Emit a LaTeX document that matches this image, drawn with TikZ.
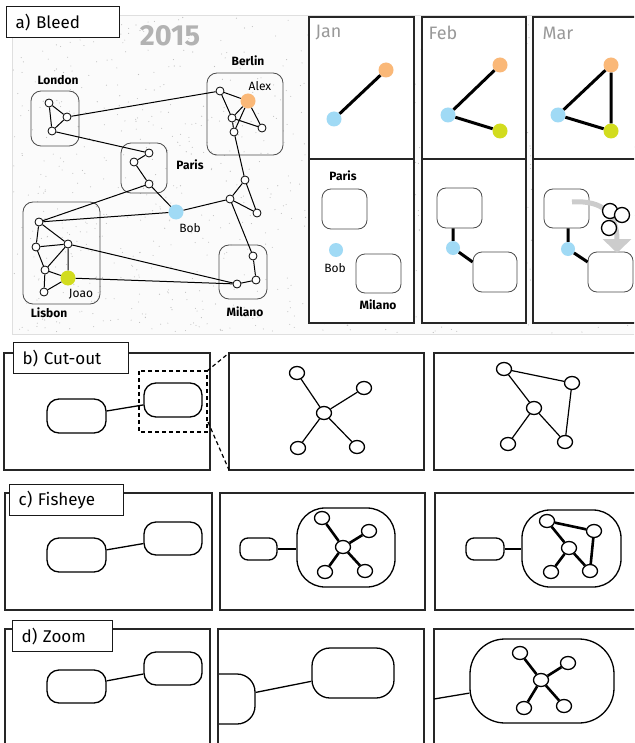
\documentclass[tikz,border=0pt]{standalone}
\usepackage{fontspec}
\setmainfont{Fira Sans}
\usetikzlibrary{shapes.geometric,arrows.meta}
\definecolor{alexorange}{RGB}{250,184,120}
\definecolor{bobblue}{RGB}{160,218,245}
\definecolor{joaogreen}{RGB}{210,220,30}
\tikzset{
  panel/.style={draw=black!85, line width=1.5pt, fill=white},
  tag/.style={draw=black!90, fill=white, line width=1.3pt, anchor=north west, inner xsep=9pt, inner ysep=0pt, minimum height=31pt, text width=#1, align=left, font=\fontsize{17}{18}\selectfont},
  city/.style={draw=black!70, line width=0.8pt, rounded corners=10pt, inner sep=0pt},
  cityname/.style={font=\fontsize{12}{13}\selectfont\bfseries},
  who/.style={font=\fontsize{12}{13}\selectfont},
  month/.style={anchor=west, text=black!40, font=\fontsize{18}{19}\selectfont},
  vtx/.style={circle, draw, fill=white, line width=0.8pt, minimum size=8pt, inner sep=0pt},
  dot/.style={circle, fill=#1, minimum size=15pt, inner sep=0pt},
  grp/.style={draw, line width=1.3pt, fill=white, inner sep=0pt, rounded corners=#1},
  grp/.default=12pt,
  knot/.style={ellipse, draw, fill=white, line width=1.3pt, minimum width=15pt, minimum height=13pt, inner sep=0pt},
  edge/.style={line width=1pt},
  fat/.style={line width=2.6pt}
}
\begin{document}
\begin{tikzpicture}[x=1pt,y=1pt]
\clip (0,0) rectangle (634,-743);
\fill[white] (0,0) rectangle (634,-743);
\draw[gray!25, fill=gray!3, line width=0.8pt] (12,-15) rectangle (660,-334);
\pgfmathsetseed{42}
\foreach \i in {1,...,1100} {
  \fill[gray!50] ({13+640*rnd},{-16-317*rnd}) circle (0.55pt);
}
\node[text=black!30, font=\fontsize{29}{29}\selectfont\bfseries] (year) at (170,-36) {2015};

\node[city, minimum width=48pt, minimum height=55pt] (london) at (55,-118.5) {};
\node[city, minimum width=46pt, minimum height=50pt] (paris) at (144,-168) {};
\node[city, minimum width=76pt, minimum height=82pt] (berlin) at (245,-114) {};
\node[city, minimum width=48pt, minimum height=54pt] (milano) at (243,-272) {};
\node[city, minimum width=77pt, minimum height=102pt] (lisbon) at (61.5,-253) {};
\node[cityname] at (58,-80) {London};
\node[cityname] at (190,-165) {Paris};
\node[cityname] at (248,-61) {Berlin};
\node[cityname] at (245,-312) {Milano};
\node[cityname] at (49,-313) {Lisbon};

\node[vtx] (lo1) at (49,-103) {};
\node[vtx] (lo2) at (67,-117) {};
\node[vtx] (lo3) at (52,-131) {};
\node[vtx] (pa1) at (149,-153) {};
\node[vtx] (pa2) at (134,-162) {};
\node[vtx] (pa3) at (149,-184) {};
\node[vtx] (be1) at (220,-91) {};
\node[vtx] (be3) at (232,-118) {};
\node[vtx] (be4) at (262,-128) {};
\node[vtx] (be5) at (234,-132) {};
\node[vtx] (hub1) at (245,-180) {};
\node[vtx] (hub2) at (230,-199) {};
\node[vtx] (hub3) at (257,-213) {};
\node[vtx] (mi1) at (253,-256) {};
\node[vtx] (mi2) at (256,-280) {};
\node[vtx] (mi3) at (237,-284) {};
\node[vtx] (li1) at (39,-222) {};
\node[vtx] (li2) at (36,-247) {};
\node[vtx] (li3) at (68,-244) {};
\node[vtx] (li4) at (45,-270) {};
\node[vtx] (li5) at (44,-292) {};
\node[dot=alexorange] (alex) at (248,-101) {};
\node[dot=bobblue] (bob) at (176,-212) {};
\node[dot=joaogreen] (joao) at (68,-278) {};
\node[who] at (260,-86) {Alex};
\node[who] at (190,-228) {Bob};
\node[who] at (81,-294) {Joao};

\draw[edge] (lo1) -- (lo2) -- (lo3) -- (lo1);
\draw[edge] (lo2) -- (be1);
\draw[edge] (lo3) -- (pa1) -- (pa2) -- (pa3) -- (bob);
\draw[edge] (pa3) -- (li1);
\draw[edge] (be1) -- (alex) -- (be4) -- (be3) -- (be1);
\draw[edge] (alex) -- (be3) -- (be5) -- (alex);
\draw[edge] (be5) -- (hub1) -- (hub2) -- (hub3) -- (hub1);
\draw[edge] (hub2) -- (bob);
\draw[edge] (hub2) -- (mi1) -- (mi2) -- (mi3);
\draw[edge] (mi3) -- (li3);
\draw[edge] (mi3) -- (joao);
\draw[edge] (li1) -- (bob);
\draw[edge] (li1) -- (li2) -- (li3) -- (li1);
\draw[edge] (li2) -- (li4) -- (li3) -- (joao) -- (li4) -- (li5) -- (joao);

\draw[panel] (309,-17) rectangle (414,-323);
\draw[panel] (422,-17) rectangle (526,-323);
\draw[panel] (533,-17) rectangle (650,-323);
\draw[line width=1.5pt, black!85] (309,-159) -- (414,-159);
\draw[line width=1.5pt, black!85] (422,-159) -- (526,-159);
\draw[line width=1.5pt, black!85] (533,-159) -- (650,-159);
\node[month] at (312,-33) {Jan};
\node[month] at (425,-33) {Feb};
\node[month] at (539,-33) {Mar};

\node[dot=bobblue] (janB) at (334,-119) {};
\node[dot=alexorange] (janA) at (386,-70) {};
\draw[line width=3pt] (janB) -- (janA);
\node[dot=alexorange] (febA) at (500,-65) {};
\node[dot=bobblue] (febB) at (448,-115) {};
\node[dot=joaogreen] (febJ) at (500,-131) {};
\draw[line width=3pt] (febA) -- (febB) -- (febJ);
\node[dot=alexorange] (marA) at (611,-65) {};
\node[dot=bobblue] (marB) at (558,-115) {};
\node[dot=joaogreen] (marJ) at (611,-131) {};
\draw[line width=3pt] (marA) -- (marB) -- (marJ) -- (marA);

\node[city, rounded corners=9pt, minimum width=45pt, minimum height=40pt] (janpar) at (344.5,-209) {};
\node[city, rounded corners=9pt, minimum width=45pt, minimum height=39pt] (janmil) at (378.5,-273.5) {};
\node[dot=bobblue, minimum size=14pt] (janbob) at (336,-250) {};
\node[cityname] at (343,-176) {Paris};
\node[who] at (335,-268) {Bob};
\node[cityname] at (378,-305) {Milano};

\node[city, rounded corners=9pt, minimum width=45pt, minimum height=40pt] (febpar) at (459.5,-208) {};
\node[city, rounded corners=9pt, minimum width=44pt, minimum height=40pt] (febmil) at (495,-272) {};
\node[dot=bobblue, minimum size=14pt] (febbob) at (453,-248) {};
\draw[line width=3pt] (febpar.south -| febbob) -- (febbob) -- ([yshift=10pt]febmil.west);

\node[city, rounded corners=9pt, minimum width=45pt, minimum height=39pt] (marpar) at (566.5,-208.5) {};
\node[city, rounded corners=9pt, minimum width=45pt, minimum height=40pt] (marmil) at (610.5,-272) {};
\node[dot=bobblue, minimum size=14pt] (marbob) at (568,-249) {};
\draw[line width=3pt] (marpar.south -| marbob) -- (marbob) -- ([yshift=10pt]marmil.west);
\coordinate (swing) at (572,-202);
\coordinate (land) at (617,-253);
\draw[gray!40, line width=5pt, -{Triangle[width=28pt,length=14pt]}] (swing) .. controls (603,-200) and (617,-214) .. (land);
\foreach \cx/\cy in {610/-211, 622/-215, 609/-228}
  \draw[line width=1.3pt, fill=white] (\cx,\cy) circle (7.5pt);

\node[tag=95pt] (taga) at (6,-6) {a) Bleed};

\draw[panel] (4,-353) rectangle (210,-470);
\node[grp, minimum width=59pt, minimum height=34pt] (bl) at (76.5,-416) {};
\node[grp, minimum width=58pt, minimum height=34pt] (br) at (173,-400) {};
\draw[edge, line width=1.3pt] (bl) -- (br);
\draw[line width=1.2pt, dash pattern=on 4pt off 3pt] (139,-371) rectangle (207,-432);
\coordinate (cutA) at (207,-371);
\coordinate (cutB) at (208,-422);
\draw[panel] (229,-353) rectangle (424,-470);
\coordinate (lensA) at (229,-353);
\coordinate (lensB) at (229,-470);
\draw[line width=1.2pt, dash pattern=on 4pt off 3pt] (cutA) -- (lensA);
\draw[line width=1.2pt, dash pattern=on 4pt off 3pt] (cutB) -- (lensB);
\node[knot] (bc) at (324,-413) {};
\node[knot] (bul) at (297,-373) {};
\node[knot] (bur) at (364,-388) {};
\node[knot] (bll) at (298,-448) {};
\node[knot] (blr) at (357,-447) {};
\draw[edge, line width=1.2pt] (bul) -- (bc) -- (bur) (bll) -- (bc) -- (blr);
\draw[panel] (434,-353) rectangle (650,-470);
\node[knot] (ba) at (504,-369) {};
\node[knot] (bb) at (572,-383) {};
\node[knot] (bm) at (534,-408) {};
\node[knot] (bd) at (508,-444) {};
\node[knot] (be) at (565,-442) {};
\draw[edge, line width=1.2pt] (ba) -- (bb) -- (be) -- (bm) -- (ba) (bm) -- (bd);
\node[tag=97pt] (tagb) at (13,-342) {b) Cut-out};

\draw[panel] (5,-493) rectangle (212,-610);
\node[grp, minimum width=59pt, minimum height=34pt] (cl) at (76.5,-555) {};
\node[grp, minimum width=58pt, minimum height=33pt] (cr) at (173,-538.5) {};
\draw[edge, line width=1.3pt] (cl) -- (cr);
\draw[panel] (220,-493) rectangle (425,-610);
\node[grp=8pt, minimum width=37pt, minimum height=22pt] (csm) at (258.5,-549) {};
\node[grp=28pt, minimum width=98pt, minimum height=79pt] (cbig) at (346,-547.5) {};
\draw[edge, line width=1.3pt] (csm) -- (csm -| cbig.west);
\node[knot] (cc) at (343,-547) {};
\node[knot] (cur) at (369,-531) {};
\node[knot] (clr) at (365,-571) {};
\node[knot] (cll) at (325,-572) {};
\node[knot] (cul) at (322,-518) {};
\draw[fat] (cul) -- (cc) -- (cur) (cll) -- (cc) -- (clr);
\draw[panel] (435,-493) rectangle (650,-610);
\node[grp=8pt, minimum width=38pt, minimum height=22pt] (csm2) at (485,-549) {};
\node[grp=28pt, minimum width=99pt, minimum height=77pt] (cbig2) at (571.5,-548.5) {};
\draw[edge, line width=1.3pt] (csm2) -- (csm2 -| cbig2.west);
\node[knot] (ca) at (547,-521) {};
\node[knot] (cb) at (594,-531) {};
\node[knot] (cm) at (569,-548) {};
\node[knot] (cd) at (551,-572) {};
\node[knot] (ce) at (590,-571) {};
\draw[fat] (ca) -- (cb) -- (ce) -- (cm) -- (ca) (cm) -- (cd);
\node[tag=96pt] (tagc) at (9,-484) {c) Fisheye};

\draw[panel] (5,-629) rectangle (210,-760);
\node[grp, minimum width=59pt, minimum height=33pt] (dl) at (76.5,-686.5) {};
\node[grp, minimum width=58pt, minimum height=33pt] (dr) at (173,-668.5) {};
\draw[edge, line width=1.3pt] (dl) -- (dr);
\draw[panel] (218,-629) rectangle (424,-760);
\begin{scope}
\clip (218,-629) rectangle (424,-760);
\node[grp=18pt, minimum width=65pt, minimum height=50pt] (dhalf) at (222.5,-699) {};
\end{scope}
\node[grp=18pt, minimum width=82pt, minimum height=50pt] (dbig) at (353,-673) {};
\draw[edge, line width=1.3pt] (dhalf) -- (dbig);
\draw[line width=1.5pt, black!85] (218,-629) -- (218,-760);
\draw[panel] (434,-629) rectangle (650,-760);
\node[grp=35pt, minimum width=144pt, minimum height=84pt] (dzb) at (542,-681) {};
\coordinate (dedge) at (434,-699);
\draw[edge, line width=1.3pt] (dedge) -- (dzb);
\node[knot] (dc) at (541,-680) {};
\node[knot] (dul) at (520,-653) {};
\node[knot] (dur) at (568,-663) {};
\node[knot] (dll) at (524,-708) {};
\node[knot] (dlr) at (564,-706) {};
\draw[fat] (dul) -- (dc) -- (dur) (dll) -- (dc) -- (dlr);
\node[tag=82pt] (tagd) at (12,-620) {d) Zoom};
\end{tikzpicture}
\end{document}
